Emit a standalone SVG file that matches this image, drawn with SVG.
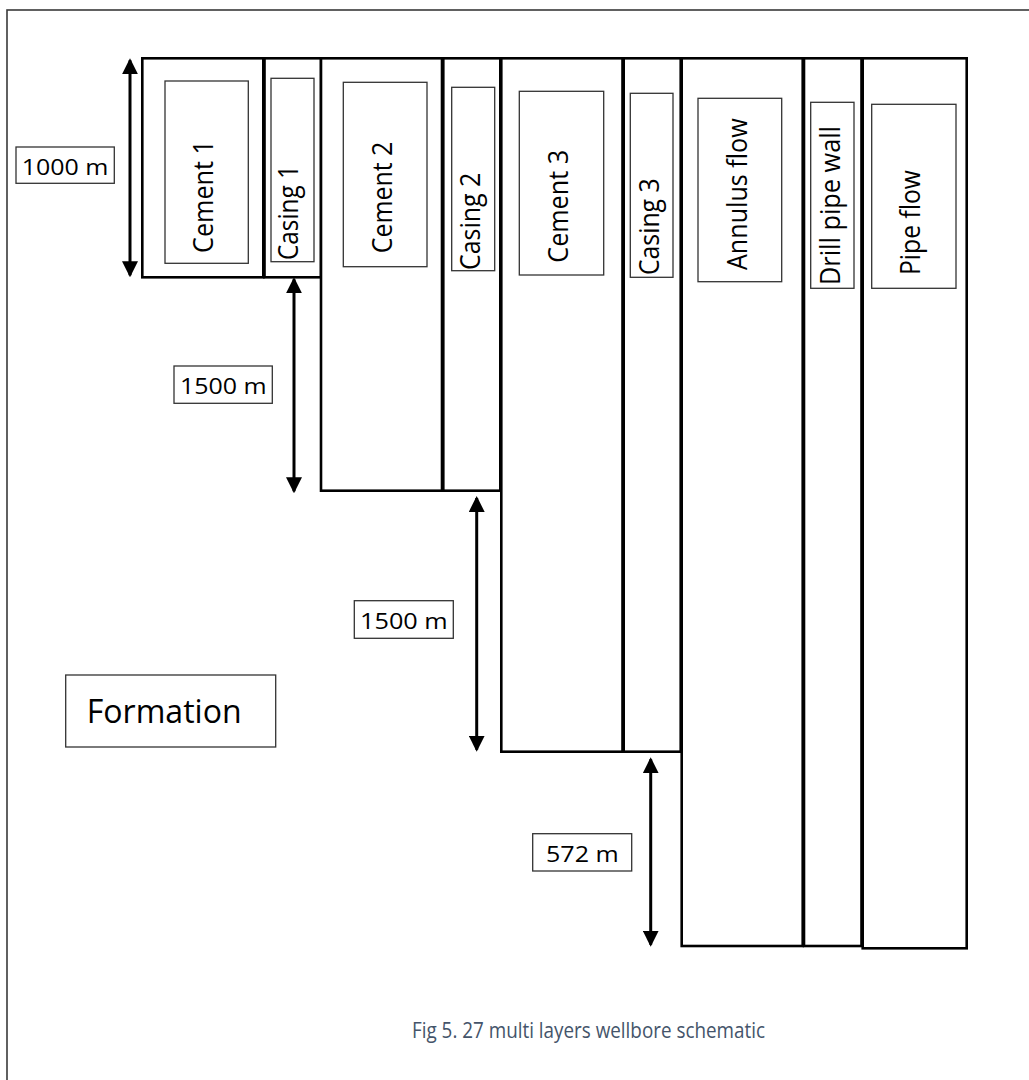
<svg xmlns="http://www.w3.org/2000/svg" width="1029" height="1080" viewBox="0 0 1029 1080">
  <style>
    .layer { fill: #ffffff; stroke: #000000; stroke-width: 2.6; }
    .inner { fill: #ffffff; stroke: #333333; stroke-width: 1.3; }
    .tag { fill: #ffffff; stroke: #333333; stroke-width: 1.3; }
    .vlabel { font-family: "Open Sans", "Liberation Sans", sans-serif; font-size: 27px; fill: #000000; text-anchor: middle; }
    .hlabel { font-family: "Open Sans", "Liberation Sans", sans-serif; font-size: 21px; fill: #000000; }
    .dim { stroke: #000000; stroke-width: 3; fill: none; marker-start: url(#head); marker-end: url(#head); }
    .caption { font-family: "Open Sans", "Liberation Sans", sans-serif; font-size: 22px; fill: #44546A; }
  </style>
  <defs>
    <marker id="head" viewBox="0 0 16 16" refX="14" refY="8" markerWidth="16" markerHeight="16" markerUnits="userSpaceOnUse" orient="auto-start-reverse">
      <path d="M0,0 L16,8 L0,16 Z" fill="#000000"/>
    </marker>
  </defs>

  <rect width="1029" height="1080" fill="#ffffff"/>
  <!-- page frame -->
  <rect x="7" y="10" width="1100" height="1200" fill="none" stroke="#3a3a3a" stroke-width="1.6"/>

  <!-- wellbore layers, outermost to innermost -->
  <g id="cement1">
    <rect class="layer" x="142.3" y="58.3" width="121" height="219"/>
    <rect class="inner" x="165" y="81" width="83.3" height="182.3"/>
    <text class="vlabel" transform="translate(213,196.5) rotate(-90)" textLength="113" lengthAdjust="spacingAndGlyphs">Cement 1</text>
  </g>
  <g id="casing1">
    <rect class="layer" x="264.5" y="58.3" width="56.5" height="219"/>
    <rect class="inner" x="271" y="78.3" width="43" height="183.4"/>
    <text class="vlabel" transform="translate(297.5,212.5) rotate(-90)" textLength="95" lengthAdjust="spacingAndGlyphs">Casing 1</text>
  </g>
  <g id="cement2">
    <rect class="layer" x="321" y="58.3" width="121" height="432.4"/>
    <rect class="inner" x="343.3" y="82.3" width="83.7" height="184.4"/>
    <text class="vlabel" transform="translate(391.7,197.5) rotate(-90)" textLength="111.6" lengthAdjust="spacingAndGlyphs">Cement 2</text>
  </g>
  <g id="casing2">
    <rect class="layer" x="443.3" y="58.3" width="57" height="432.4"/>
    <rect class="inner" x="451.7" y="87.3" width="43" height="183.4"/>
    <text class="vlabel" transform="translate(480,221.3) rotate(-90)" textLength="97.3" lengthAdjust="spacingAndGlyphs">Casing 2</text>
  </g>
  <g id="cement3">
    <rect class="layer" x="501.3" y="58.3" width="121.2" height="693.4"/>
    <rect class="inner" x="519.3" y="91.3" width="84.4" height="183.7"/>
    <text class="vlabel" transform="translate(568.3,206.3) rotate(-90)" textLength="112.7" lengthAdjust="spacingAndGlyphs">Cement 3</text>
  </g>
  <g id="casing3">
    <rect class="layer" x="623.7" y="58.3" width="57" height="693.4"/>
    <rect class="inner" x="630.3" y="93.3" width="42.7" height="184"/>
    <text class="vlabel" transform="translate(659.3,226.7) rotate(-90)" textLength="96.7" lengthAdjust="spacingAndGlyphs">Casing 3</text>
  </g>
  <g id="annulus-flow">
    <rect class="layer" x="681.7" y="58.3" width="121" height="887.7"/>
    <rect class="inner" x="698" y="98.3" width="83.7" height="183.4"/>
    <text class="vlabel" transform="translate(746.7,194.2) rotate(-90)" textLength="151.7" lengthAdjust="spacingAndGlyphs">Annulus flow</text>
  </g>
  <g id="drill-pipe-wall">
    <rect class="layer" x="804" y="58.3" width="57.5" height="887.7"/>
    <rect class="inner" x="810.7" y="102.3" width="43.3" height="186"/>
    <text class="vlabel" transform="translate(840,205.5) rotate(-90)" textLength="159" lengthAdjust="spacingAndGlyphs">Drill pipe wall</text>
  </g>
  <g id="pipe-flow">
    <rect class="layer" x="862.7" y="58.3" width="104" height="890"/>
    <rect class="inner" x="871.7" y="104.3" width="84.3" height="184"/>
    <text class="vlabel" transform="translate(920,222.5) rotate(-90)" textLength="105" lengthAdjust="spacingAndGlyphs">Pipe flow</text>
  </g>

  <!-- depth labels -->
  <g id="depth-1000">
    <rect class="tag" x="16" y="147" width="98.3" height="36.3"/>
    <text class="hlabel" x="21.7" y="175" textLength="86.7" lengthAdjust="spacingAndGlyphs">1000 m</text>
  </g>
  <g id="depth-1500-a">
    <rect class="tag" x="174" y="366" width="98.3" height="37.3"/>
    <text class="hlabel" x="180" y="394.3" textLength="86.7" lengthAdjust="spacingAndGlyphs">1500 m</text>
  </g>
  <g id="depth-1500-b">
    <rect class="tag" x="354.3" y="600.7" width="99" height="37.6"/>
    <text class="hlabel" x="360" y="629" textLength="87.7" lengthAdjust="spacingAndGlyphs">1500 m</text>
  </g>
  <g id="depth-572">
    <rect class="tag" x="532.7" y="833.7" width="99" height="37.3"/>
    <text class="hlabel" x="546" y="862.3" textLength="72.7" lengthAdjust="spacingAndGlyphs">572 m</text>
  </g>
  <g id="formation">
    <rect class="tag" x="65.7" y="675" width="210" height="72"/>
    <text class="hlabel" x="86.7" y="722.7" style="font-size:33px" textLength="155" lengthAdjust="spacingAndGlyphs">Formation</text>
  </g>

  <!-- depth dimension arrows -->
  <g id="connectors">
    <line class="dim" x1="130" y1="60.3" x2="130" y2="275.3"/>
    <line class="dim" x1="294" y1="279.3" x2="294" y2="491.3"/>
    <line class="dim" x1="476.7" y1="498" x2="476.7" y2="749.7"/>
    <line class="dim" x1="650.7" y1="759.3" x2="650.7" y2="944.7"/>
  </g>

  <text class="caption" x="412" y="1038" textLength="353" lengthAdjust="spacingAndGlyphs">Fig 5. 27 multi layers wellbore schematic</text>
</svg>
